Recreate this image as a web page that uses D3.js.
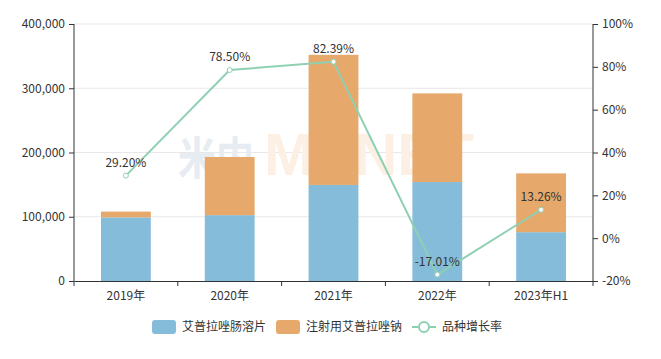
<!DOCTYPE html>
<html><head><meta charset="utf-8">
<script src="https://cdn.jsdelivr.net/npm/d3@7"></script>
<style>body{margin:0;background:#fff;}svg{display:block;font-family:"Noto Sans CJK SC","Noto Sans",sans-serif;}</style>
</head><body><svg id="c" width="661" height="359"></svg>
<script>
const categories = ["2019年","2020年","2021年","2022年","2023年H1"];
const tablets = [99000, 102500, 149500, 154000, 76000];
const injection = [9000, 90500, 202500, 138000, 91500];
const growth = [29.20, 78.50, 82.39, -17.01, 13.26];
const seriesNames = ["艾普拉唑肠溶片","注射用艾普拉唑钠","品种增长率"];
const leftTicks = [0,100000,200000,300000,400000];
const rightTicks = [-20,0,20,40,60,80,100];
const colors = ["#85bcd9","#e6a86b","#8ed0b2"];

const svg = d3.select("#c");
const L=74,R=593,T=24,B=281;
const x = d3.scaleBand().domain(categories).range([L,R]).paddingInner(0.52).paddingOuter(0.26);
const xb = d3.scaleBand().domain(categories).range([L,R]);
const y = d3.scaleLinear().domain([0,400000]).range([B,T]);
const y2 = d3.scaleLinear().domain([-20,100]).range([B,T]);

// grid
svg.append("g").selectAll("line").data(leftTicks.slice(1)).join("line")
  .attr("x1",L).attr("x2",R).attr("y1",d=>y(d)).attr("y2",d=>y(d))
  .attr("stroke","#e8e8e8").attr("stroke-width",1);

// watermark
svg.append("text").attr("transform","translate(178,175) scale(1,1.2)")
  .style("font-weight","bold").style("font-size","38px").attr("fill","#e6ecf1").text("米内");
svg.append("text").attr("x",264).attr("y",175).attr("textLength",210).attr("lengthAdjust","spacingAndGlyphs")
  .style("font-weight","bold").style("font-family","Arial,'Liberation Sans',sans-serif")
  .style("font-size","60px").attr("fill","#fcf0e4").text("MENET");

// bars
const stack = categories.map((c,i)=>({c, a:tablets[i], b:injection[i]}));
svg.append("g").selectAll("rect").data(stack).join("rect")
  .attr("x",d=>x(d.c)).attr("width",x.bandwidth())
  .attr("y",d=>y(d.a)).attr("height",d=>y(0)-y(d.a)).attr("fill",colors[0]);
svg.append("g").selectAll("rect").data(stack).join("rect")
  .attr("x",d=>x(d.c)).attr("width",x.bandwidth())
  .attr("y",d=>y(d.a+d.b)).attr("height",d=>y(d.a)-y(d.a+d.b)).attr("fill",colors[1]);

// axes
const fmt = d3.format(",");
const gl = svg.append("g").attr("transform",`translate(${L},0)`)
  .call(d3.axisLeft(y).tickValues(leftTicks).tickFormat(fmt).tickSize(5).tickPadding(4));
const gr = svg.append("g").attr("transform",`translate(${R},0)`)
  .call(d3.axisRight(y2).tickValues(rightTicks).tickFormat(d=>d+"%").tickSize(5).tickPadding(4));
const gb = svg.append("g").attr("transform",`translate(0,${B})`)
  .call(d3.axisBottom(xb).tickSize(0).tickPadding(10));
svg.append("g").selectAll("line").data(categories.map(c=>xb(c)).concat([R])).join("line")
  .attr("x1",d=>d).attr("x2",d=>d).attr("y1",B).attr("y2",B+5).attr("stroke","#333");
[gl,gr,gb].forEach(g=>{
  g.selectAll("path").attr("stroke","#333");
  g.selectAll("line").attr("stroke","#333");
  g.selectAll("text").attr("fill","#333").style("font-size","12px").style("font-family",'"Noto Sans CJK SC","Noto Sans",sans-serif');
});
gl.select(".domain").attr("d",`M0,${T}V${B}`);
gr.select(".domain").attr("d",`M0,${T}V${B}`);

// line
const cx = c=>xb(c)+xb.bandwidth()/2;
const line = d3.line().x((d,i)=>cx(categories[i])).y(d=>y2(d));
svg.append("path").datum(growth).attr("d",line).attr("fill","none")
  .attr("stroke",colors[2]).attr("stroke-width",2);
svg.append("g").selectAll("circle").data(growth).join("circle")
  .attr("cx",(d,i)=>cx(categories[i])).attr("cy",d=>y2(d)).attr("r",2.5)
  .attr("fill","#fff").attr("stroke",colors[2]).attr("stroke-width",1);
svg.append("g").selectAll("text").data(growth).join("text")
  .attr("x",(d,i)=>cx(categories[i])).attr("y",d=>y2(d)-9)
  .attr("text-anchor","middle").attr("fill","#333").style("font-size","12px")
  .text(d=>d.toFixed(2)+"%");

// legend
const lg = svg.append("g").attr("transform","translate(0,327)");
const items=[{x:152,t:seriesNames[0],k:0},{x:276,t:seriesNames[1],k:1},{x:412,t:seriesNames[2],k:2}];
items.forEach(it=>{
  if(it.k<2){
    lg.append("rect").attr("x",it.x).attr("y",-7).attr("width",24).attr("height",14).attr("rx",3).attr("fill",colors[it.k]);
  } else {
    lg.append("line").attr("x1",it.x).attr("x2",it.x+24).attr("y1",0).attr("y2",0).attr("stroke",colors[2]).attr("stroke-width",2);
    lg.append("circle").attr("cx",it.x+12).attr("cy",0).attr("r",5).attr("fill","#fff").attr("stroke",colors[2]).attr("stroke-width",2);
  }
  lg.append("text").attr("x",it.x+30).attr("y",0).attr("dy","0.35em").attr("fill","#333").style("font-size","12px").text(it.t);
});
</script></body></html>
